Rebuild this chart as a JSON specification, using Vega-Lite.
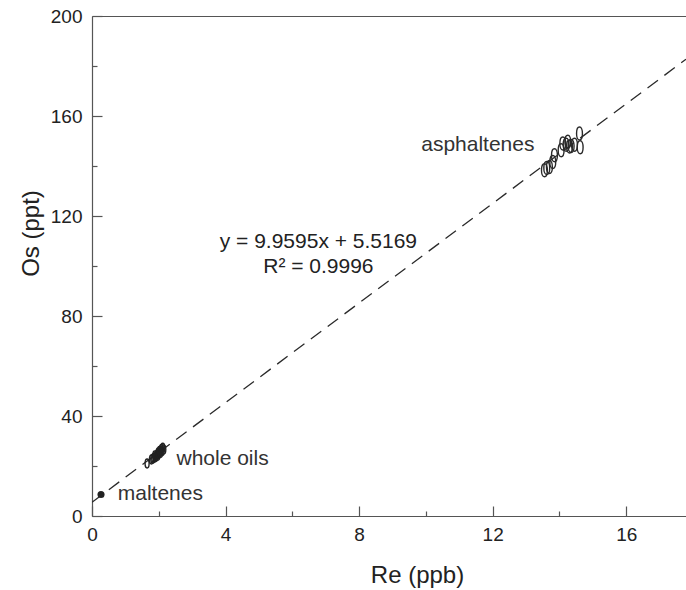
{
  "$schema": "https://vega.github.io/schema/vega-lite/v6.json",
  "autosize": {"type": "none"},
  "padding": {"left": 92, "top": 16, "right": 0, "bottom": 74},
  "width": 594,
  "height": 500,
  "background": "white",
  "config": {
    "view": {"stroke": null},
    "font": "Liberation Sans",
    "axis": {"grid": false, "domainColor": "#555", "tickColor": "#555", "labelColor": "#222", "titleColor": "#222", "labelFontSize": 19, "titleFontSize": 24, "titleFontWeight": "normal", "domainWidth": 1.2, "tickWidth": 1.2}
  },
  "datasets": {
    "fit": [{"Re": 0, "Os": 5.52}, {"Re": 17.79, "Os": 182.7}],
    "asphaltenes": [
      {"Re": 13.55, "Os": 138.3}, {"Re": 13.62, "Os": 139.2}, {"Re": 13.70, "Os": 139.6}, {"Re": 13.80, "Os": 141.6},
      {"Re": 13.85, "Os": 144.3}, {"Re": 14.05, "Os": 146.3}, {"Re": 14.10, "Os": 149.0}, {"Re": 14.20, "Os": 148.5},
      {"Re": 14.25, "Os": 149.7}, {"Re": 14.30, "Os": 147.8}, {"Re": 14.35, "Os": 148.0}, {"Re": 14.45, "Os": 148.5},
      {"Re": 14.60, "Os": 153.0}, {"Re": 14.62, "Os": 147.5}
    ],
    "wholeoils": [
      {"Re": 1.65, "Os": 21.0}, {"Re": 1.78, "Os": 22.6}, {"Re": 1.82, "Os": 22.9}, {"Re": 1.85, "Os": 23.2},
      {"Re": 1.88, "Os": 24.2}, {"Re": 1.90, "Os": 23.5}, {"Re": 1.92, "Os": 23.8}, {"Re": 1.95, "Os": 24.6},
      {"Re": 1.97, "Os": 24.1}, {"Re": 1.98, "Os": 25.4}, {"Re": 2.00, "Os": 24.9}, {"Re": 2.02, "Os": 26.0},
      {"Re": 2.05, "Os": 25.2}, {"Re": 2.06, "Os": 26.2}, {"Re": 2.08, "Os": 26.8}, {"Re": 2.10, "Os": 25.9},
      {"Re": 2.12, "Os": 27.3}, {"Re": 2.15, "Os": 26.6}
    ],
    "maltenes": [{"Re": 0.27, "Os": 8.6}],
    "labels": [
      {"Re": 9.86, "Os": 148.4, "text": "asphaltenes"},
      {"Re": 2.53, "Os": 22.8, "text": "whole oils"},
      {"Re": 0.77, "Os": 8.8, "text": "maltenes"}
    ],
    "equation": [
      {"Re": 6.78, "Os": 109.7, "text": "y = 9.9595x + 5.5169"},
      {"Re": 6.78, "Os": 99.6, "text": "R² = 0.9996"}
    ]
  },
  "resolve": {"axis": {"x": "independent", "y": "independent"}},
  "layer": [
    {
      "data": {"name": "fit"},
      "mark": {"type": "line", "color": "#2a2a2a", "strokeWidth": 1.3, "strokeDash": [13, 8], "clip": true},
      "encoding": {
        "x": {"field": "Re", "type": "quantitative", "scale": {"domain": [0, 17.79], "nice": false, "zero": false},
          "axis": {"orient": "bottom", "values": [0, 4, 8, 12, 16], "tickSize": -10, "labelPadding": 19, "title": "Re (ppb)", "titleX": 325, "titleY": 66, "titleBaseline": "alphabetic", "titleAlign": "center", "labelFlush": false}},
        "y": {"field": "Os", "type": "quantitative", "scale": {"domain": [0, 200], "nice": false, "zero": false},
          "axis": {"orient": "left", "values": [0, 40, 80, 120, 160, 200], "tickSize": -10, "labelPadding": 20, "title": "Os (ppt)", "titleX": -61, "titleY": 217, "titleBaseline": "middle", "titleAlign": "center", "titleAngle": -90, "labelFlush": false}}
      }
    },
    {
      "data": {"name": "asphaltenes"},
      "mark": {"type": "point", "shape": "M0,-1C0.6,-1 0.6,1 0,1C-0.6,1 -0.6,-1 0,-1Z", "size": 170, "filled": false, "stroke": "#2a2a2a", "strokeWidth": 1.4, "opacity": 1},
      "encoding": {
        "x": {"field": "Re", "type": "quantitative", "axis": {"orient": "bottom", "values": [2, 6, 10, 14], "tickSize": -5, "labels": false, "domain": false, "title": null}},
        "y": {"field": "Os", "type": "quantitative", "axis": {"orient": "left", "values": [20, 60, 100, 140, 180], "tickSize": -5, "labels": false, "domain": false, "title": null}}
      }
    },
    {
      "data": {"name": "wholeoils"},
      "mark": {"type": "point", "shape": "M0,-1C0.6,-1 0.6,1 0,1C-0.6,1 -0.6,-1 0,-1Z", "size": 80, "filled": false, "stroke": "#222", "strokeWidth": 1.4, "opacity": 1},
      "encoding": {
        "x": {"field": "Re", "type": "quantitative", "axis": {"orient": "top", "ticks": false, "labels": false, "domain": true, "title": null}},
        "y": {"field": "Os", "type": "quantitative", "axis": null}
      }
    },
    {
      "data": {"name": "maltenes"},
      "mark": {"type": "point", "shape": "circle", "size": 50, "filled": true, "color": "#222", "opacity": 1},
      "encoding": {
        "x": {"field": "Re", "type": "quantitative", "axis": null},
        "y": {"field": "Os", "type": "quantitative", "axis": null}
      }
    },
    {
      "data": {"name": "labels"},
      "mark": {"type": "text", "align": "left", "baseline": "middle", "fontSize": 21, "color": "#333"},
      "encoding": {
        "x": {"field": "Re", "type": "quantitative", "axis": null},
        "y": {"field": "Os", "type": "quantitative", "axis": null},
        "text": {"field": "text"}
      }
    },
    {
      "data": {"name": "equation"},
      "mark": {"type": "text", "align": "center", "baseline": "middle", "fontSize": 21, "color": "#222"},
      "encoding": {
        "x": {"field": "Re", "type": "quantitative", "axis": null},
        "y": {"field": "Os", "type": "quantitative", "axis": null},
        "text": {"field": "text"}
      }
    }
  ]
}
